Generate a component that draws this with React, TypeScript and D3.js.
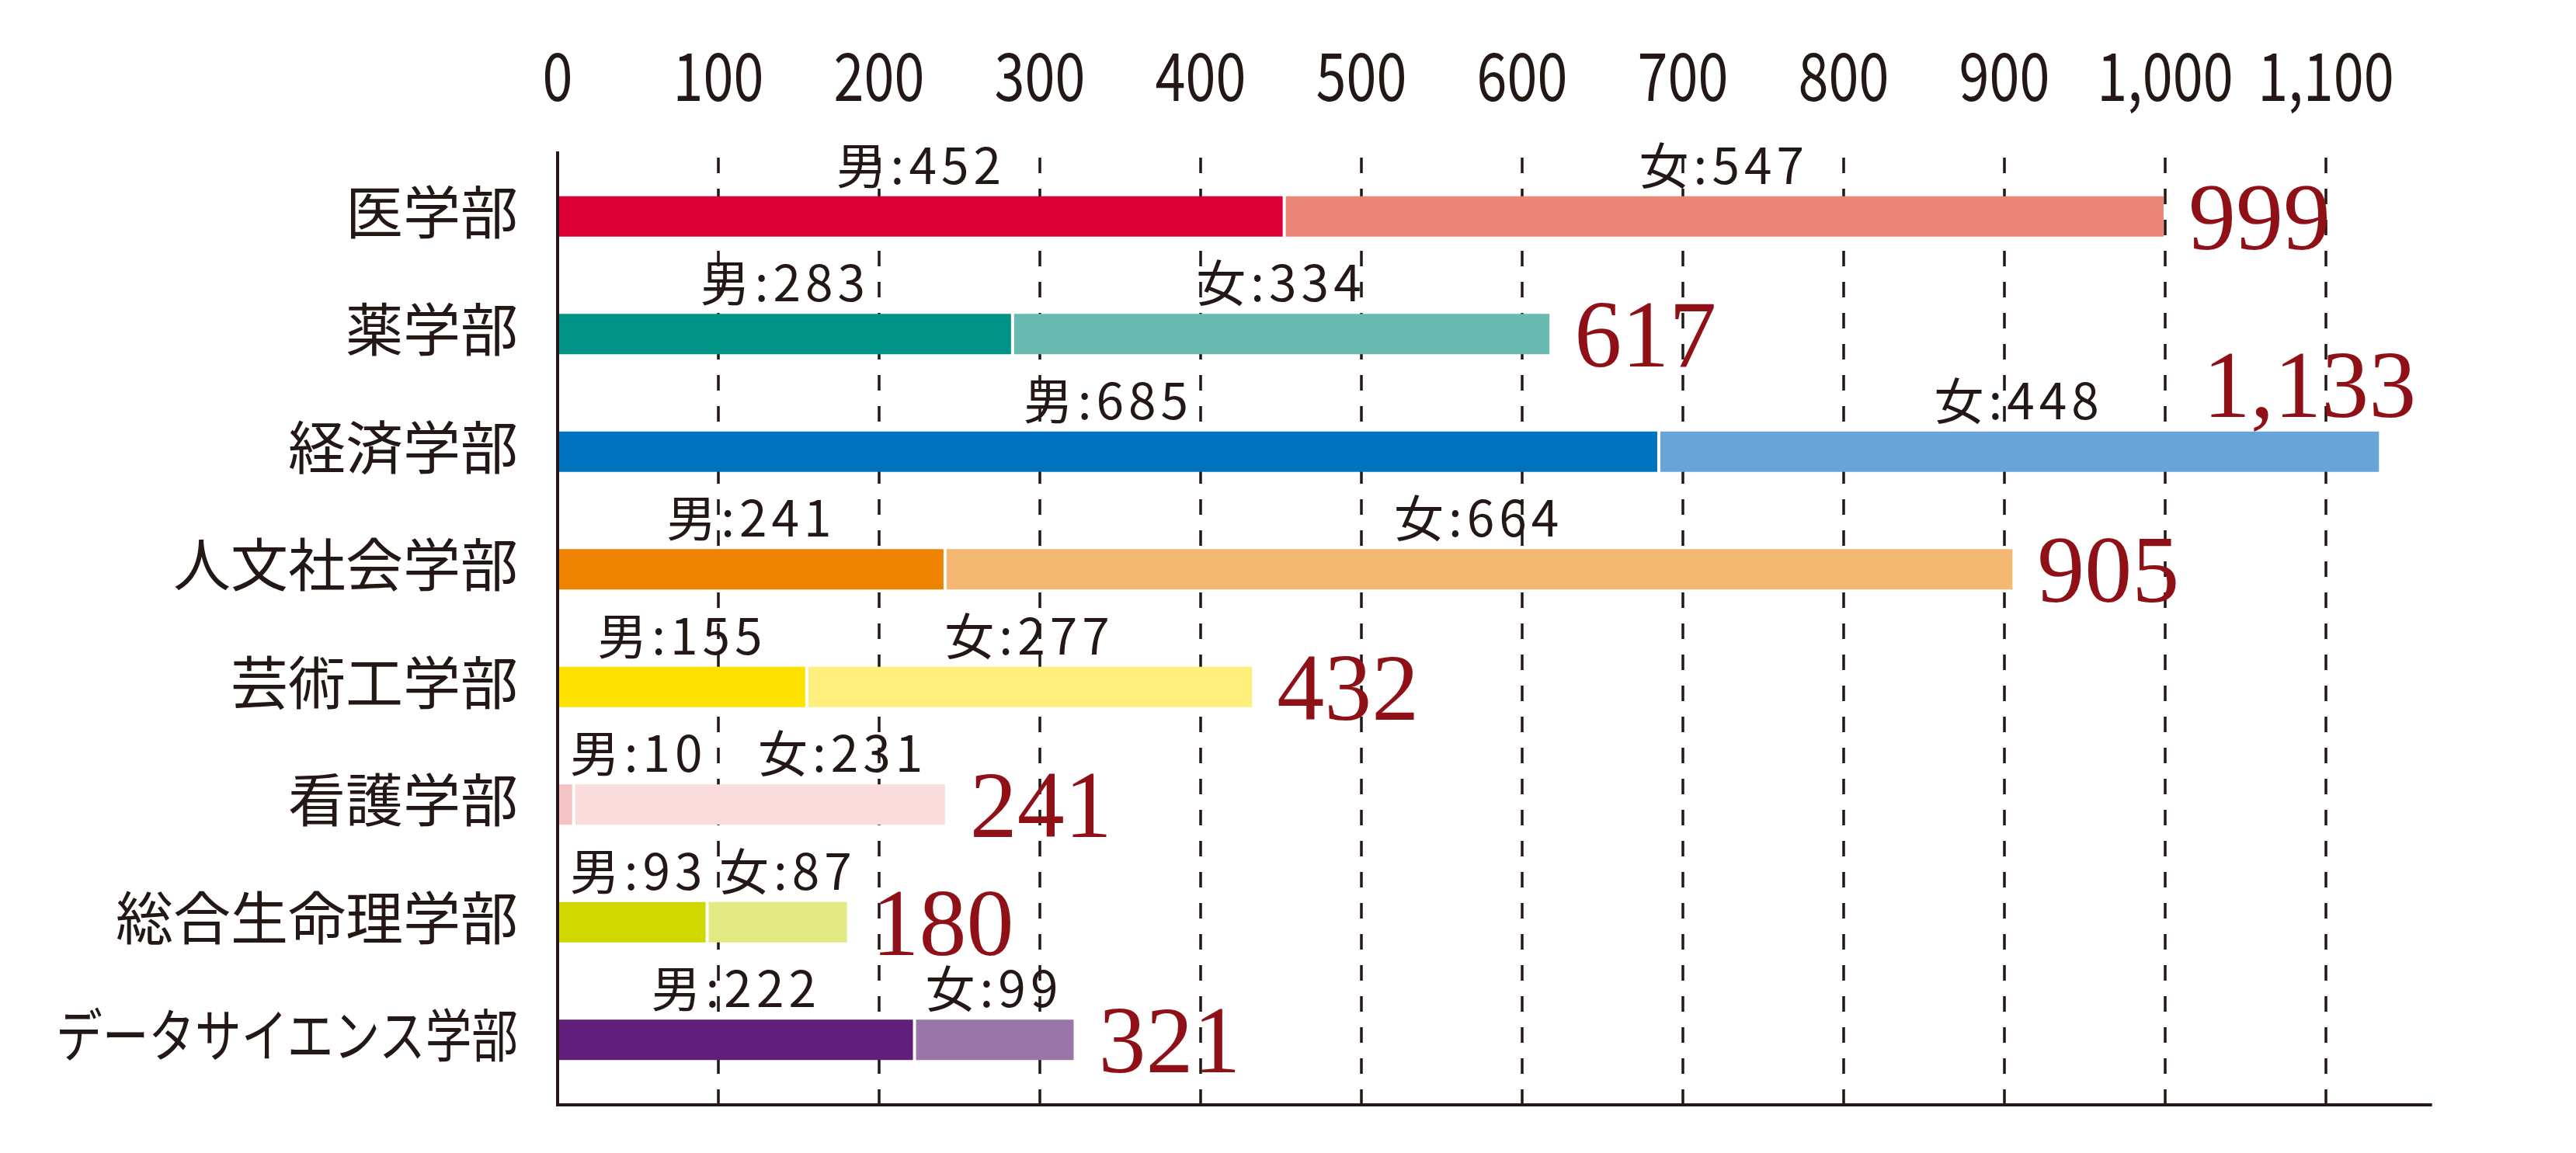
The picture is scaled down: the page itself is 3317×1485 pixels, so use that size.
import * as d3 from "d3";

const categories = [
  "医学部",
  "薬学部",
  "経済学部",
  "人文社会学部",
  "芸術工学部",
  "看護学部",
  "総合生命理学部",
  "データサイエンス学部",
];
const maleValues = [452, 283, 685, 241, 155, 10, 93, 222];
const femaleValues = [547, 334, 448, 664, 277, 231, 87, 99];
const totalValues = [999, 617, 1133, 905, 432, 241, 180, 321];
const maleColors = ["#DC0039", "#009486", "#0073BF", "#EE8300", "#FFE100", "#F4C4C4", "#CFD900", "#5F1F7A"];
const femaleColors = ["#EA857A", "#68B9AF", "#69A4D8", "#F5B873", "#FFEF7C", "#FADCDC", "#E3E982", "#9A76A8"];
const tickValues = [0, 100, 200, 300, 400, 500, 600, 700, 800, 900, 1000, 1100];
const axisMax = 1166;

const W = 3317;
const H = 1485;
const ink = "#231815";
const totalColor = "#8F1117";
const cjk = "'Noto Sans CJK JP', 'Noto Sans', sans-serif";

const segFont = 64;
const segSpacing = 6;
const barH = 52;
const catFont = 74;
const catMaxWidth = 595;

// rough width of a "男:452" style label
const labelWidth = (s: string) => {
  let w = 0;
  for (const ch of s) {
    if (/[0-9]/.test(ch)) w += 0.555 * segFont;
    else if (ch === ":") w += 0.3 * segFont;
    else w += segFont;
  }
  return w + segSpacing * (s.length - 1);
};

export default function App() {
  const x = d3.scaleLinear().domain([0, 1100]).range([718, 2995]);
  const y = d3.scalePoint<string>().domain(categories).range([203, 1415]).padding(0.5);
  const fmt = d3.format(",");

  const axisTop = 195;
  const axisBottom = 1423;
  const x0 = x(0);
  const xEnd = x(axisMax);

  const rows = categories.map((c, i) => {
    const cy = y(c)!;
    const m = maleValues[i];
    const f = femaleValues[i];
    const t = totalValues[i];
    const mText = `男:${m}`;
    const fText = `女:${f}`;
    const mw = labelWidth(mText);
    const fw = labelWidth(fText);
    const mCenter = Math.max((x(0) + x(m)) / 2, x0 + 18 + mw / 2);
    const mRight = mCenter + mw / 2;
    let fLeft = (x(m) + x(m + f)) / 2 - fw / 2;
    if (fLeft < mRight - 20) fLeft = mRight + 70;
    else fLeft = Math.max(fLeft, mRight + 20);
    const tText = fmt(t);
    const tWidth = tText.replace(",", "").length * 0.5 * 122 + (tText.includes(",") ? 30 : 0);
    const overflow = x(t) + 32 + tWidth > xEnd;
    const catWidth = c.length * catFont;
    return {
      c, cy, m, f, t, mText, fText, mCenter,
      fCenter: fLeft + fw / 2,
      tText, overflow, i,
      squeeze: catWidth > catMaxWidth,
    };
  });

  return (
    <svg
      width={W}
      height={H}
      viewBox={`0 0 ${W} ${H}`}
      style={{ position: "absolute", left: 0, top: 0, background: "#fff" }}
    >
      <rect width={W} height={H} fill="#fff" />

      {/* top tick labels */}
      {tickValues.map((v) => (
        <text
          key={`t${v}`}
          transform={`translate(${x(v)},130) scale(0.9,1.1)`}
          textAnchor="middle"
          fontFamily={cjk}
          fontSize={78}
          fill={ink}
        >
          {fmt(v)}
        </text>
      ))}

      {/* dashed gridlines */}
      {tickValues.slice(1).map((v) => (
        <line
          key={`g${v}`}
          x1={x(v)}
          x2={x(v)}
          y1={203}
          y2={axisBottom}
          stroke={ink}
          strokeWidth={3.5}
          strokeDasharray="20 20"
        />
      ))}

      {/* bars */}
      {rows.map((r) => (
        <g key={`b${r.c}`}>
          <rect
            x={x0 + 2}
            y={r.cy - barH / 2}
            width={Math.max(0, x(r.m) - 2 - (x0 + 2))}
            height={barH}
            fill={maleColors[r.i]}
          />
          <rect
            x={x(r.m) + 2}
            y={r.cy - barH / 2}
            width={x(r.m + r.f) - x(r.m) - 2}
            height={barH}
            fill={femaleColors[r.i]}
          />
        </g>
      ))}

      {/* axes */}
      <line x1={x0} x2={x0} y1={axisTop} y2={axisBottom + 2} stroke={ink} strokeWidth={4} />
      <line x1={x0 - 2} x2={xEnd} y1={axisBottom} y2={axisBottom} stroke={ink} strokeWidth={4} />

      {/* category labels */}
      {rows.map((r) => (
        <text
          key={`c${r.c}`}
          x={667}
          y={r.cy + 22}
          textAnchor="end"
          fontFamily={cjk}
          fontSize={catFont}
          fill={ink}
          textLength={r.squeeze ? catMaxWidth : undefined}
          lengthAdjust={r.squeeze ? "spacingAndGlyphs" : undefined}
        >
          {r.c}
        </text>
      ))}

      {/* male / female labels */}
      {rows.map((r) => (
        <g key={`l${r.c}`} fontFamily={cjk} fontSize={segFont} fill={ink} letterSpacing={segSpacing}>
          <text x={r.mCenter} y={r.cy - barH / 2 - 16} textAnchor="middle">
            {r.mText}
          </text>
          <text x={r.fCenter} y={r.cy - barH / 2 - 16} textAnchor="middle">
            {r.fText}
          </text>
        </g>
      ))}

      {/* totals */}
      {rows.map((r) => (
        <text
          key={`s${r.c}`}
          x={r.overflow ? x(r.t) + 48 : x(r.t) + 32}
          y={r.overflow ? r.cy - barH / 2 - 19 : r.cy + 42}
          textAnchor={r.overflow ? "end" : "start"}
          fontFamily="'Liberation Serif', 'Times New Roman', serif"
          fontSize={122}
          fill={totalColor}
        >
          {r.tText}
        </text>
      ))}
    </svg>
  );
}
